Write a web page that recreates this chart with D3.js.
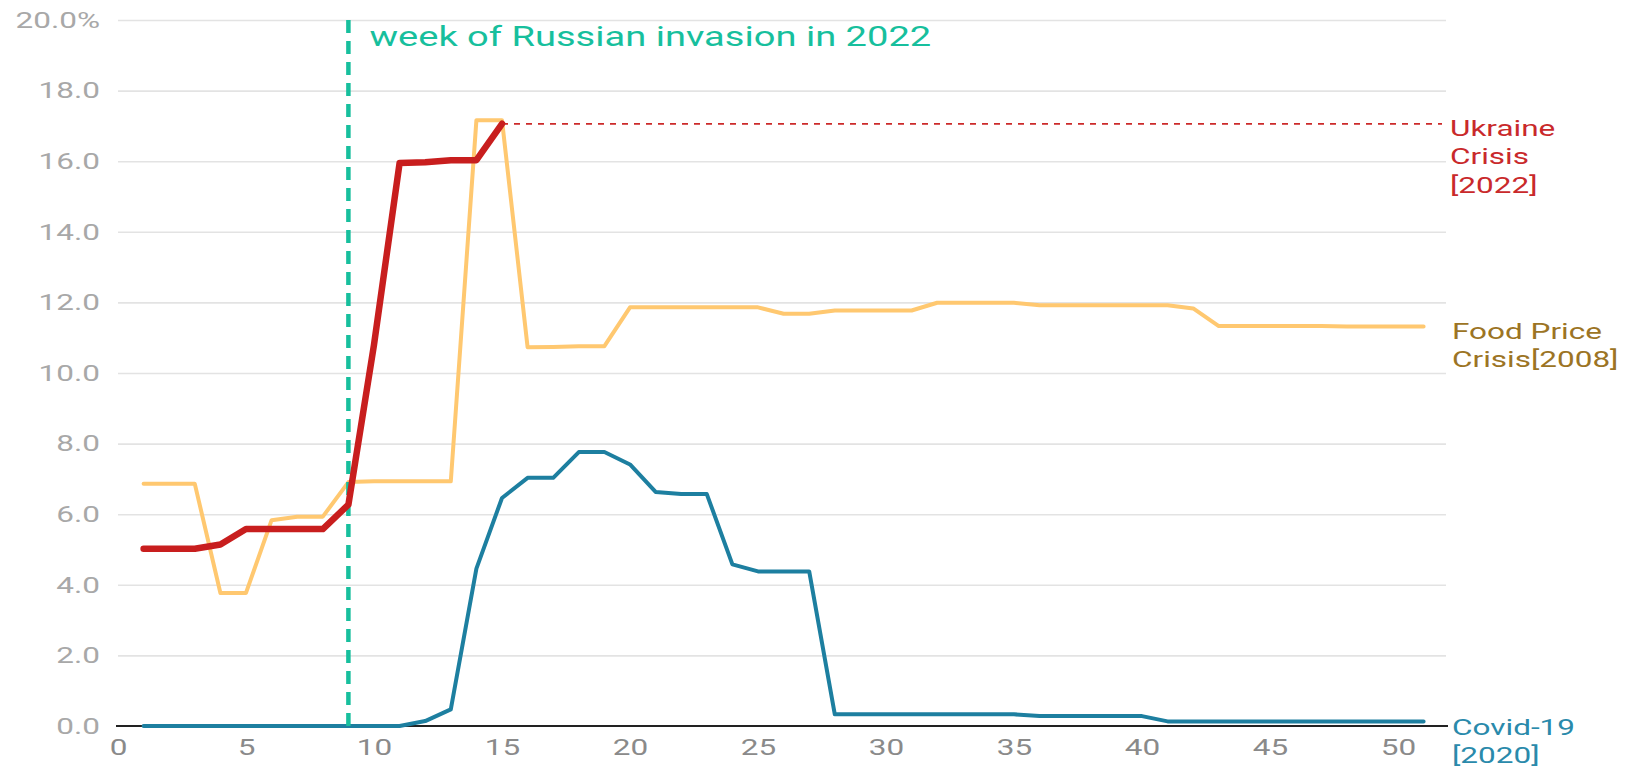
<!DOCTYPE html>
<html>
<head>
<meta charset="utf-8">
<script src="https://cdn.jsdelivr.net/npm/d3@7"></script>
<style>
  body { margin: 0; background: #fff; }
  text { font-family: Roboto, "Noto Sans", sans-serif; }
</style>
</head>
<body>
<svg id="chart" width="1625" height="768"></svg>
<script>
// weekly values, % (week 1..51)
const weeks = d3.range(1, 52);
const ukraine = [5.02, 5.02, 5.02, 5.14, 5.58, 5.58, 5.58, 5.58, 6.27, 10.8,
    15.95, 15.97, 16.03, 16.03, 17.06];
const foodPrice = [6.86, 6.86, 6.86, 3.77, 3.77, 5.83, 5.93, 5.93, 6.91, 6.93,
    6.93, 6.93, 6.93, 17.16, 17.16, 10.73, 10.74, 10.76, 10.76, 11.86,
    11.86, 11.86, 11.86, 11.86, 11.86, 11.68, 11.68, 11.77, 11.77, 11.77,
    11.77, 11.99, 11.99, 11.99, 11.99, 11.92, 11.92, 11.92, 11.92, 11.92,
    11.92, 11.83, 11.33, 11.33, 11.33, 11.33, 11.33, 11.32, 11.32, 11.32, 11.32];
const covid = [0, 0, 0, 0, 0, 0, 0, 0, 0, 0,
    0, 0.14, 0.47, 4.46, 6.46, 7.03, 7.03, 7.76, 7.76, 7.41,
    6.63, 6.57, 6.57, 4.58, 4.38, 4.38, 4.38, 0.33, 0.33, 0.33,
    0.33, 0.33, 0.33, 0.33, 0.33, 0.28, 0.28, 0.28, 0.28, 0.28,
    0.13, 0.13, 0.13, 0.13, 0.13, 0.13, 0.13, 0.13, 0.13, 0.13, 0.13];
const yTicks = [0, 2, 4, 6, 8, 10, 12, 14, 16, 18, 20];
const xTicks = [0, 5, 10, 15, 20, 25, 30, 35, 40, 45, 50];
const invasionWeek = 9;
const invasionLabel = "week of Russian invasion in 2022";
const seriesLabels = {
    ukraine: ["Ukraine", "Crisis", "[2022]"],
    food: ["Food Price", "Crisis[2008]"],
    covid: ["Covid-19", "[2020]"]
};

const sx = 1.4; // the original text is stretched wide
const svg = d3.select("#chart");

const x = d3.scaleLinear().domain([0, 52]).range([118, 1449.2]);
const y = d3.scaleLinear().domain([0, 20]).range([726, 20]);

// y axis + gridlines
const yAxis = svg.append("g")
    .attr("transform", "translate(118,0)")
    .call(d3.axisLeft(y).tickValues(yTicks)
        .tickSize(-(1446 - 118))
        .tickFormat(d => d === 20 ? "20.0%" : d3.format(".1f")(d)));
yAxis.select(".domain").remove();
yAxis.selectAll(".tick line")
    .attr("stroke", "#e3e3e3")
    .attr("stroke-width", 1.6)
    .filter(d => d === 0).remove();
yAxis.selectAll(".tick text")
    .attr("x", -18 / sx)
    .attr("transform", `scale(${sx},1)`)
    .attr("fill", "#a8a8a8")
    .style("font-size", "22.5px");

// x axis
const xAxis = svg.append("g")
    .attr("transform", "translate(0,726)")
    .call(d3.axisBottom(x).tickValues(xTicks).tickSize(0));
xAxis.select(".domain").remove();
xAxis.selectAll(".tick text")
    .attr("y", 13)
    .attr("transform", `scale(${sx},1)`)
    .attr("fill", "#8a8a8a")
    .style("font-size", "22.5px");

svg.append("line")
    .attr("x1", 116).attr("x2", 1448)
    .attr("y1", y(0)).attr("y2", y(0))
    .attr("stroke", "#222").attr("stroke-width", 2);

const line = d3.line()
    .x((d, i) => x(weeks[i]))
    .y(d => y(d));

svg.append("path")
    .datum(foodPrice)
    .attr("d", line)
    .attr("fill", "none")
    .attr("stroke", "#ffc870")
    .attr("stroke-width", 4)
    .attr("stroke-linejoin", "round")
    .attr("stroke-linecap", "round");

svg.append("path")
    .datum(covid)
    .attr("d", line)
    .attr("fill", "none")
    .attr("stroke", "#1d7fa0")
    .attr("stroke-width", 4)
    .attr("stroke-linejoin", "round")
    .attr("stroke-linecap", "round");

// invasion marker
svg.append("line")
    .attr("x1", x(invasionWeek)).attr("x2", x(invasionWeek))
    .attr("y1", y(20)).attr("y2", y(0))
    .attr("stroke", "#17bf9d")
    .attr("stroke-width", 4.5)
    .attr("stroke-dasharray", "13,8");

svg.append("text")
    .attr("transform", `translate(${x(invasionWeek) + 21},46) scale(${sx},1)`)
    .attr("fill", "#17bf9d")
    .style("font-size", "27.2px")
    .text(invasionLabel);

// last ukraine value carried to the label
const lastU = ukraine[ukraine.length - 1];
svg.append("line")
    .attr("x1", x(ukraine.length)).attr("x2", 1442)
    .attr("y1", y(lastU)).attr("y2", y(lastU))
    .attr("stroke", "#cc2a2a")
    .attr("stroke-width", 1.8)
    .attr("stroke-dasharray", "6,6");

svg.append("path")
    .datum(ukraine)
    .attr("d", line)
    .attr("fill", "none")
    .attr("stroke", "#c81e1e")
    .attr("stroke-width", 6.5)
    .attr("stroke-linejoin", "round")
    .attr("stroke-linecap", "round");

// series labels
const addLabel = (lines, xPos, yPos, color) => {
    const t = svg.append("text")
        .attr("transform", `translate(${xPos},${yPos}) scale(${sx},1)`)
        .attr("fill", color)
        .style("font-size", "22.5px");
    t.selectAll("tspan")
        .data(lines)
        .enter()
        .append("tspan")
        .attr("x", 0)
        .attr("dy", (d, i) => i === 0 ? 0 : 28.5)
        .text(d => d);
};

addLabel(seriesLabels.ukraine, 1450, 136, "#c9292b");
addLabel(seriesLabels.food, 1452, 339, "#9c7424");
addLabel(seriesLabels.covid, 1452, 735, "#2a8aab");
</script>
</body>
</html>
